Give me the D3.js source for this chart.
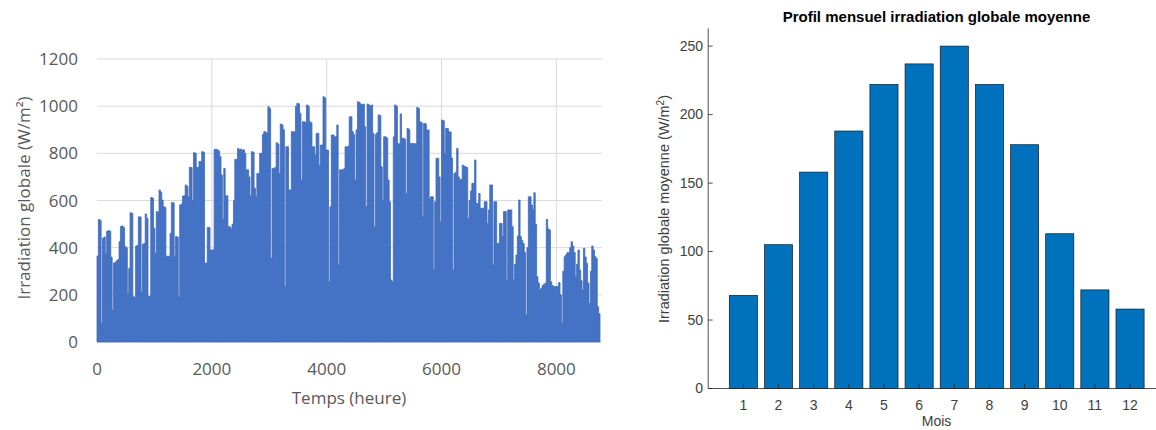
<!DOCTYPE html>
<html><head><meta charset="utf-8">
<script src="https://cdn.jsdelivr.net/npm/d3@7"></script>
<style>body{margin:0;background:#fff} svg{display:block}</style>
</head><body>
<svg id="c" width="1156" height="430"></svg>
<script>
// ---- Left chart: hourly global irradiation, read as daily peak values (W/m²), day 0..364
const dailyPeak = [
 365,520,515,80,440,445,375,470,472,470,360,136,335,338,345,350,425,490,492,485,
 405,400,206,312,548,545,192,190,407,410,531,530,213,415,418,543,524,192,195,613,
 610,482,376,553,550,644,635,602,574,570,362,365,362,461,591,590,362,447,445,192,
 581,585,619,620,666,660,616,741,740,602,803,800,741,740,765,765,807,805,334,335,
 486,486,390,390,390,817,817,815,810,786,708,520,736,620,620,489,489,480,500,600,
 775,775,820,815,818,812,815,800,730,730,700,620,807,805,652,616,715,715,800,800,
 880,892,890,885,998,990,355,736,736,740,845,840,715,924,920,900,235,828,828,645,
 645,892,892,890,1000,1012,1010,970,687,934,934,930,1005,1000,934,930,828,828,793,885,
 885,750,835,835,1040,1035,814,814,256,574,878,878,870,870,920,326,730,730,730,735,
 828,828,830,955,955,892,880,687,900,1019,1015,1009,1005,1009,913,574,1009,1005,1000,1005,
 885,489,880,888,963,960,743,600,870,870,865,687,595,263,256,870,1005,1000,842,840,
 967,864,864,860,630,906,900,842,842,842,840,842,995,990,934,930,531,927,925,899,
 899,609,616,616,305,595,779,779,700,510,941,938,800,906,905,892,890,780,305,715,
 720,821,700,687,690,750,745,743,740,524,600,640,673,673,772,588,588,630,567,567,
 567,595,595,503,560,666,666,326,595,595,418,418,503,503,447,553,553,263,560,560,
 560,489,263,330,369,450,602,447,430,418,380,114,400,616,616,581,560,633,500,277,
 250,220,228,240,245,249,520,480,475,256,240,235,235,235,235,252,200,79,300,362,
 370,379,379,400,425,407,380,277,330,390,305,260,220,397,360,334,250,164,300,407,
 390,362,355,150,120
];
const hourTicks = [0, 2000, 4000, 6000, 8000];
const irrTicks = [0, 200, 400, 600, 800, 1000, 1200];

// ---- Right chart: monthly mean global irradiation (W/m²)
const months = [1,2,3,4,5,6,7,8,9,10,11,12];
const monthlyMean = [68,105,158,188,222,237,250,222,178,113,72,58];
const meanTicks = [0, 50, 100, 150, 200, 250];

const svg = d3.select("#c");

// ================= LEFT =================
{
  const x = d3.scaleLinear().domain([0, 8760]).range([97, 600]);
  const y = d3.scaleLinear().domain([0, 1200]).range([342, 59]);
  const g = svg.append("g");
  const grid = "#d9d9d9", txt = "#595959";
  const font = "'Open Sans', sans-serif";

  g.selectAll("line.hg").data(irrTicks).join("line")
    .attr("x1", x(0)).attr("x2", 602)
    .attr("y1", d => y(d)).attr("y2", d => y(d))
    .attr("stroke", grid).attr("stroke-width", 1);
  g.selectAll("line.vg").data(hourTicks.filter(d => d > 0)).join("line")
    .attr("x1", d => x(d)).attr("x2", d => x(d))
    .attr("y1", y(1200)).attr("y2", y(0))
    .attr("stroke", grid).attr("stroke-width", 1);

  const pts = dailyPeak.map((v, i) => ({h: i * 24, v}));
  pts.push({h: 8760, v: dailyPeak[dailyPeak.length - 1]});
  const area = d3.area().curve(d3.curveStepAfter)
    .x(d => x(d.h)).y0(y(0)).y1(d => y(d.v));
  g.append("path").datum(pts).attr("d", area)
    .attr("fill", "#4472c4").attr("stroke", "#4169b8").attr("stroke-width", 0.8);

  g.selectAll("text.yl").data(irrTicks).join("text")
    .attr("x", 78).attr("y", d => y(d)).attr("dy", "0.36em")
    .attr("text-anchor", "end").attr("fill", txt)
    .style("font-family", font).style("font-size", "17px").text(d => d);
  g.selectAll("text.xl").data(hourTicks).join("text")
    .attr("x", d => x(d)).attr("y", 375)
    .attr("text-anchor", "middle").attr("fill", txt)
    .style("font-family", font).style("font-size", "17px").text(d => d);
  g.append("text").attr("x", 349).attr("y", 404).attr("text-anchor", "middle")
    .attr("fill", txt).style("font-family", font).style("font-size", "17px")
    .text("Temps (heure)");
  g.append("text").attr("transform", "translate(30,198) rotate(-90)")
    .attr("text-anchor", "middle").attr("fill", txt)
    .style("font-family", font).style("font-size", "17px")
    .text("Irradiation globale (W/m²)");
}

// ================= RIGHT =================
{
  const x = d3.scaleLinear().domain([0, 13]).range([708.2, 1165.2]);
  const y = d3.scaleLinear().domain([0, 263]).range([388.5, 28.3]);
  const g = svg.append("g");
  const axc = "#262626", txt = "#404040";
  const font = "'Liberation Sans', Arial, sans-serif";
  const bw = x(0.8) - x(0);

  g.selectAll("rect").data(months).join("rect")
    .attr("x", (d) => x(d) - bw / 2)
    .attr("width", bw)
    .attr("y", (d, i) => y(monthlyMean[i]))
    .attr("height", (d, i) => y(0) - y(monthlyMean[i]))
    .attr("fill", "#0072bd").attr("stroke", "#1a1a1a").attr("stroke-width", 0.7);

  g.append("line").attr("x1", x(0)).attr("x2", x(0)).attr("y1", y(263)).attr("y2", y(0))
    .attr("stroke", axc).attr("stroke-width", 0.8);
  g.append("line").attr("x1", x(0)).attr("x2", x(13)).attr("y1", y(0)).attr("y2", y(0))
    .attr("stroke", axc).attr("stroke-width", 0.8);

  g.selectAll("line.yt").data(meanTicks).join("line")
    .attr("x1", x(0)).attr("x2", x(0) + 4.5)
    .attr("y1", d => y(d)).attr("y2", d => y(d))
    .attr("stroke", axc).attr("stroke-width", 0.8);
  g.selectAll("line.xt").data(months).join("line")
    .attr("x1", d => x(d)).attr("x2", d => x(d))
    .attr("y1", y(0)).attr("y2", y(0) - 4.5)
    .attr("stroke", axc).attr("stroke-width", 0.8);

  g.selectAll("text.yl").data(meanTicks).join("text")
    .attr("x", 703).attr("y", d => y(d)).attr("dy", "0.35em")
    .attr("text-anchor", "end").attr("fill", txt)
    .style("font-family", font).style("font-size", "14px").text(d => d);
  g.selectAll("text.xl").data(months).join("text")
    .attr("x", d => x(d)).attr("y", 410)
    .attr("text-anchor", "middle").attr("fill", txt)
    .style("font-family", font).style("font-size", "14px").text(d => d);

  g.append("text").attr("x", 936.5).attr("y", 426).attr("text-anchor", "middle")
    .attr("fill", txt).style("font-family", font).style("font-size", "14px").text("Mois");

  const yt = g.append("text").attr("transform", "translate(669,209) rotate(-90)")
    .attr("text-anchor", "middle").attr("fill", txt)
    .style("font-family", font).style("font-size", "14.5px");
  yt.append("tspan").text("Irradiation globale moyenne (W/m");
  yt.append("tspan").attr("baseline-shift", "super").style("font-size", "10px").text("2");
  yt.append("tspan").text(")");

  g.append("text").attr("x", 936.5).attr("y", 22).attr("text-anchor", "middle")
    .attr("fill", "#000").style("font-family", font).style("font-size", "15px")
    .style("font-weight", "bold").text("Profil mensuel irradiation globale moyenne");
}
</script>
</body></html>
